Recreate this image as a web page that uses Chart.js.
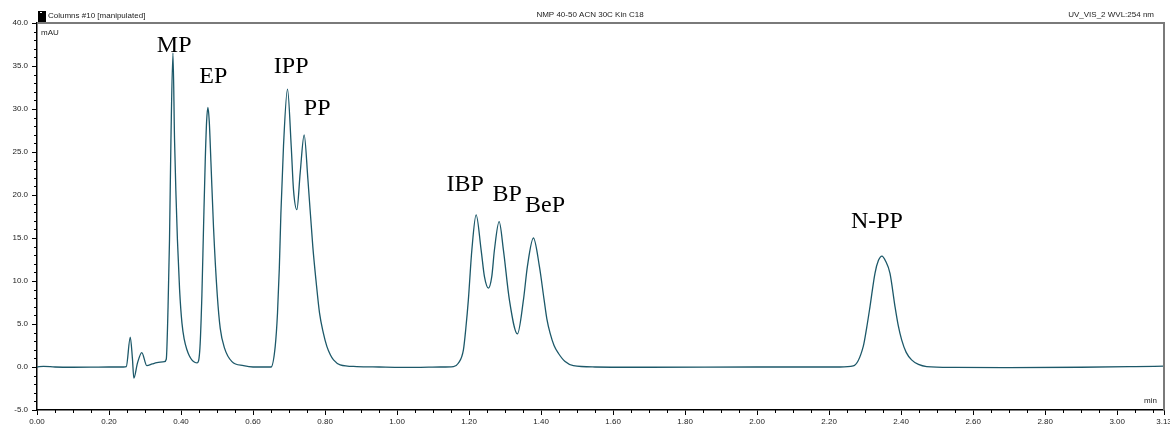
<!DOCTYPE html>
<html>
<head>
<meta charset="utf-8">
<script src="https://cdn.jsdelivr.net/npm/chart.js@4.4.1/dist/chart.umd.min.js"></script>
<style>
  html, body { margin: 0; padding: 0; background: #fff; }
  canvas { display: block; }
</style>
</head>
<body>
<canvas id="chromatogram" width="1170" height="427"></canvas>
<script>
// retention time (min) and detector signal (mAU)
const times = [
  0.000, 0.018, 0.05, 0.10, 0.15, 0.20, 0.240, 0.248, 0.259, 0.265, 0.269, 0.279, 0.291, 0.305, 0.320, 0.333, 0.354,
  0.359, 0.364, 0.368, 0.372, 0.3776, 0.382, 0.386, 0.390, 0.396, 0.4026, 0.409, 0.4164, 0.423, 0.430, 0.438, 0.445,
  0.4525, 0.458, 0.4625, 0.4672, 0.4710, 0.4747, 0.4785, 0.483, 0.4903, 0.5006, 0.5089, 0.5208, 0.5414, 0.5736, 0.600,
  0.650, 0.6616, 0.668, 0.673, 0.6774, 0.6846, 0.6957, 0.706, 0.7124, 0.7218, 0.731, 0.742, 0.7524, 0.766, 0.775, 0.7846, 0.795, 0.805, 0.815, 0.8235, 0.842, 0.888,
  0.95, 1.05, 1.12,
  1.1566, 1.170, 1.1843, 1.191, 1.198, 1.2077, 1.2196, 1.2335, 1.2427, 1.2538, 1.263, 1.2704, 1.2835, 1.2954, 1.312, 1.3343,
  1.351, 1.362, 1.3787, 1.3953, 1.4084, 1.416, 1.425, 1.436, 1.448, 1.4667, 1.4897,
  1.55, 1.70, 2.00, 2.20,
  2.230, 2.267, 2.2948, 2.304, 2.3134, 2.3273, 2.337, 2.3467, 2.357, 2.369, 2.383, 2.392, 2.4014, 2.414, 2.429, 2.448, 2.471,
  2.55, 2.70, 2.90, 3.05, 3.13
];
const mAU = [
  0, 0.08, 0.0, -0.03, -0.02, 0.0, 0.0, 0.05, 3.47, 1.0, -1.3, 0.45, 1.68, 0.16, 0.35, 0.5, 0.63,
  0.9, 7.0, 14.8, 26.4, 36.5, 26.4, 20.0, 14.8, 9.0, 5.1, 3.2, 2.0, 1.3, 0.83, 0.55, 0.48,
  2.2, 8.4, 16.2, 23.9, 28.5, 30.2, 28.5, 23.9, 16.2, 8.4, 4.5, 2.2, 0.63, 0.16, 0.0,
  0.0, 2.4, 6.3, 11.5, 17.9, 25.7, 32.3, 25.7, 20.6, 18.3, 22.6, 27.0, 21.8, 14.0, 10.0, 6.3, 4.0, 2.4, 1.4, 0.83, 0.25, 0.05,
  0.0, -0.05, 0.0,
  0.05, 0.44, 2.0, 4.5, 7.8, 13.6, 17.7, 13.6, 10.5, 9.17, 10.5, 13.6, 16.9, 13.6, 7.8, 3.85,
  7.8, 11.7, 15.0, 11.7, 7.8, 5.6, 3.93, 2.5, 1.6, 0.63, 0.15,
  0.0, -0.03, 0.0, 0.0,
  0.0, 0.12, 2.4, 4.5, 7.0, 10.9, 12.4, 12.9, 12.3, 10.9, 7.0, 4.8, 3.15, 1.7, 0.83, 0.3, 0.05,
  -0.05, -0.08, -0.03, 0.05, 0.1
];

// peak names and where their labels sit (min, mAU)
const peakNames = ["MP", "EP", "IPP", "PP", "IBP", "BP", "BeP", "N-PP"];
const peakLabelTime = [0.381, 0.4895, 0.706, 0.778, 1.189, 1.3056, 1.4111, 2.3328];
const peakLabelMAU = [36.57, 33.07, 34.24, 29.34, 20.42, 19.25, 18.06, 16.19];

const xTickValues = [0, 0.2, 0.4, 0.6, 0.8, 1.0, 1.2, 1.4, 1.6, 1.8, 2.0, 2.2, 2.4, 2.6, 2.8, 3.0, 3.13];
const yTickValues = [-5, 0, 5, 10, 15, 20, 25, 30, 35, 40];

const headerLeft = "Columns #10 [manipulated]";
const headerMid = "NMP 40-50 ACN 30C Kin C18";
const headerRight = "UV_VIS_2 WVL:254 nm";

const SANS = '"Liberation Sans", Arial, sans-serif';
const TRACE = "#1c5869";

const points = times.map((t, i) => ({ x: t, y: mAU[i] }));

// frame, minor ticks, header and peak names
const decorations = {
  id: "decorations",
  afterDraw(chart) {
    const { ctx, chartArea: a, scales } = chart;
    const xs = scales.x, ys = scales.y;
    ctx.save();

    // grey frame on top and right
    ctx.strokeStyle = "#7a7a7a";
    ctx.lineWidth = 2;
    ctx.beginPath();
    ctx.moveTo(a.left, a.top);
    ctx.lineTo(a.right, a.top);
    ctx.lineTo(a.right, a.bottom);
    ctx.stroke();

    // minor ticks
    ctx.strokeStyle = "#000";
    ctx.lineWidth = 1;
    ctx.beginPath();
    for (let i = 1; i * 0.05 < 3.13; i++) {
      if (i % 4 === 0) continue;
      const px = Math.round(xs.getPixelForValue(i * 0.05)) + 0.5;
      ctx.moveTo(px, a.bottom);
      ctx.lineTo(px, a.bottom + 3);
    }
    for (let v = -4; v < 40; v++) {
      if (v % 5 === 0) continue;
      const py = Math.round(ys.getPixelForValue(v)) + 0.5;
      ctx.moveTo(a.left, py);
      ctx.lineTo(a.left - 3, py);
    }
    ctx.stroke();

    // header
    ctx.fillStyle = "#000";
    ctx.fillRect(a.left + 1, 11, 8, 11);
    ctx.fillStyle = "#fff";
    ctx.fillRect(a.left + 3, 12, 2, 1);
    ctx.fillStyle = "#222";
    ctx.font = "8px " + SANS;
    ctx.textBaseline = "middle";
    ctx.textAlign = "left";
    ctx.fillText(headerLeft, a.left + 11, 16);
    ctx.textAlign = "center";
    ctx.fillText(headerMid, 590, 15);
    ctx.textAlign = "right";
    ctx.fillText(headerRight, a.right - 10, 15);

    // axis units
    ctx.textAlign = "left";
    ctx.fillText("mAU", a.left + 4, 33);
    ctx.textAlign = "right";
    ctx.fillText("min", a.right - 7, 401);

    // peak names
    ctx.fillStyle = "#000";
    ctx.font = '24px "Liberation Serif", "Times New Roman", serif';
    ctx.textAlign = "center";
    ctx.textBaseline = "alphabetic";
    peakNames.forEach((name, i) => {
      ctx.fillText(name, xs.getPixelForValue(peakLabelTime[i]), ys.getPixelForValue(peakLabelMAU[i]));
    });
    ctx.restore();
  }
};

new Chart(document.getElementById("chromatogram"), {
  type: "line",
  data: {
    datasets: [{
      data: points,
      borderColor: TRACE,
      borderWidth: 1.3,
      pointRadius: 0,
      fill: false,
      cubicInterpolationMode: "monotone"
    }]
  },
  options: {
    responsive: false,
    animation: false,
    parsing: false,
    layout: { padding: { left: 0, right: 6, top: 23, bottom: 0 } },
    plugins: { legend: { display: false }, tooltip: { enabled: false } },
    scales: {
      x: {
        type: "linear",
        min: 0,
        max: 3.13,
        afterBuildTicks: (scale) => { scale.ticks = xTickValues.map(v => ({ value: v })); },
        afterFit: (scale) => {
          scale.height = 17;
          // let the last label run past the frame like the original
          scale.paddingRight = 0;
        },
        ticks: {
          autoSkip: false,
          maxRotation: 0,
          padding: 2,
          color: "#222",
          font: { family: SANS, size: 8 },
          callback: (v) => v.toFixed(2)
        },
        grid: { drawOnChartArea: false, tickLength: 5, color: "#000" },
        border: { color: "#000", width: 1.5 }
      },
      y: {
        min: -5,
        max: 40,
        afterBuildTicks: (scale) => { scale.ticks = yTickValues.map(v => ({ value: v })); },
        afterFit: (scale) => { scale.width = 37; },
        ticks: {
          padding: 4,
          color: "#222",
          font: { family: SANS, size: 8 },
          callback: (v) => v.toFixed(1)
        },
        grid: { drawOnChartArea: false, tickLength: 5, color: "#000" },
        border: { color: "#000", width: 1.5 }
      }
    }
  },
  plugins: [decorations]
});
</script>
</body>
</html>
